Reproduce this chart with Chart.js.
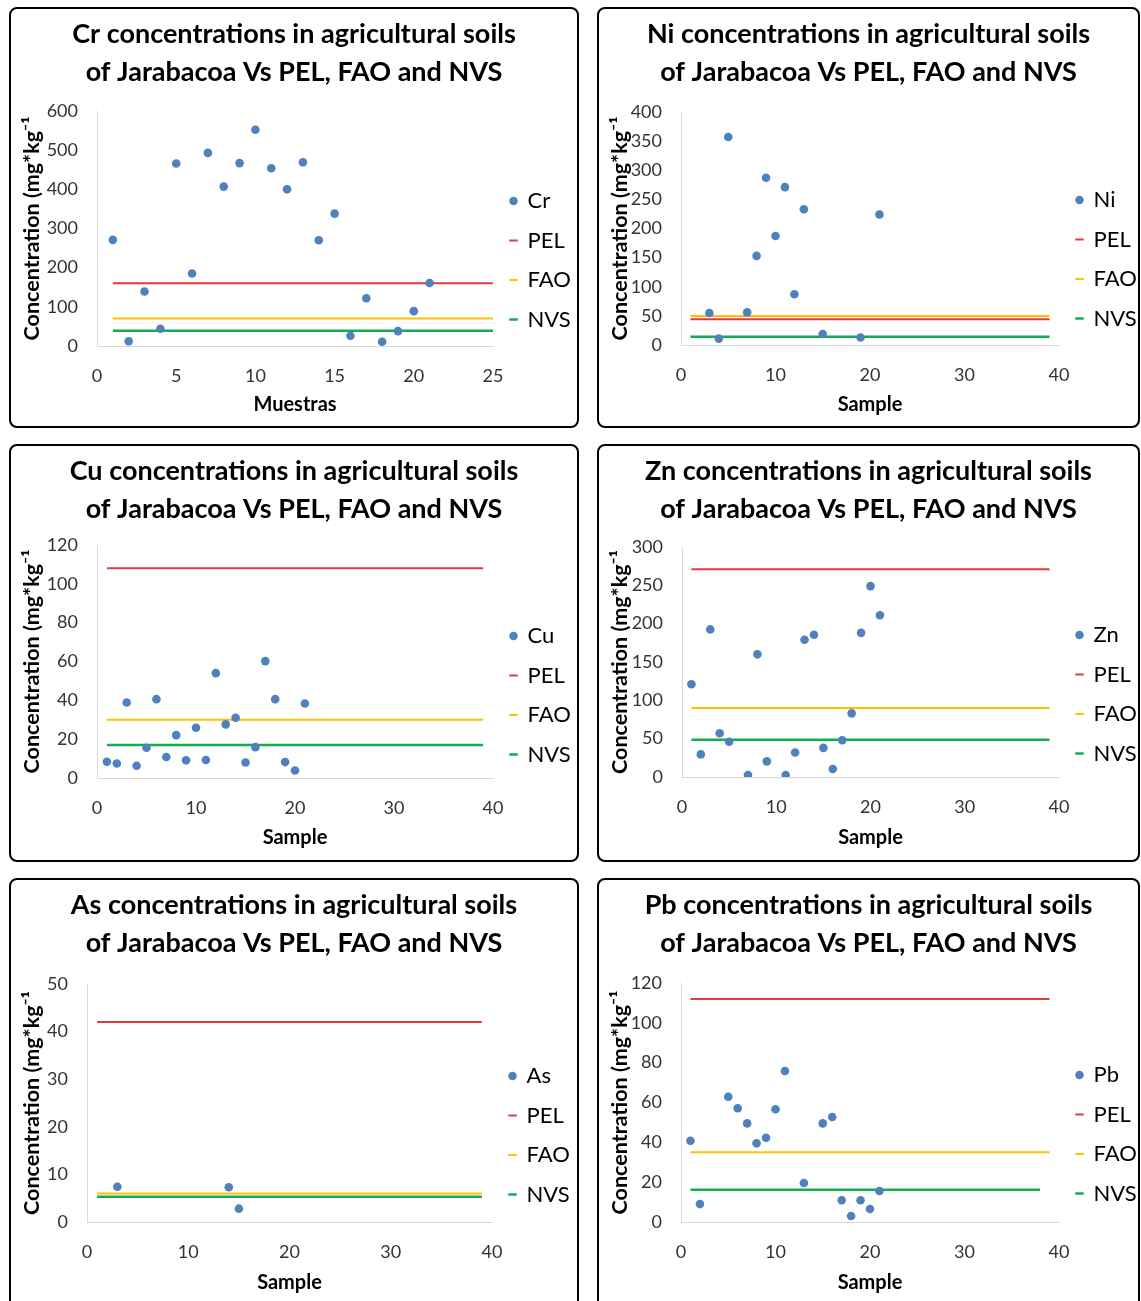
<!DOCTYPE html>
<html>
<head>
<meta charset="utf-8">
<script src="https://cdn.jsdelivr.net/npm/chart.js@4.4.1/dist/chart.umd.min.js"></script>
<style>
  html, body { margin:0; padding:0; background:#fff; }
  body { width:1141px; height:1301px; position:relative; overflow:hidden; }
  .panel { position:absolute; }
  .panel canvas { position:absolute; left:0; top:0; }
  .frame { position:absolute; left:0; top:0; right:0; bottom:0; border:2px solid #000; border-radius:8px; pointer-events:none; }
</style>
</head>
<body>
<div class="panel" id="p-cr"><canvas id="c-cr"></canvas><div class="frame"></div></div>
<div class="panel" id="p-ni"><canvas id="c-ni"></canvas><div class="frame"></div></div>
<div class="panel" id="p-cu"><canvas id="c-cu"></canvas><div class="frame"></div></div>
<div class="panel" id="p-zn"><canvas id="c-zn"></canvas><div class="frame"></div></div>
<div class="panel" id="p-as"><canvas id="c-as"></canvas><div class="frame"></div></div>
<div class="panel" id="p-pb"><canvas id="c-pb"></canvas><div class="frame"></div></div>
<script>
// sample numbers (x)
const samples = [1,2,3,4,5,6,7,8,9,10,11,12,13,14,15,16,17,18,19,20,21];

// measured concentrations, null = not plotted
const crValues = [271,12,139,44,466,185,493,407,467,552,454,400,469,270,338,26,122,11,38,89,161];
const niValues = [null,null,55,11,357,null,56,153,287,187,271,87,233,null,19,null,null,null,13,null,224];
const cuValues = [8.4,7.5,38.9,6.3,15.6,40.6,10.8,22.1,9.1,25.9,9.3,54.0,27.6,31.0,8.0,15.9,60.2,40.6,8.2,3.9,38.4];
const znValues = [121,29.5,192.5,57,46,null,2.6,160,20.4,null,2.6,32,179,185.5,38,10.4,48,83,188,249,211];
const asValues = [null,null,7.4,null,null,null,null,null,null,null,null,null,null,7.3,2.8,null,null,null,null,null,null];
const pbValues = [40.8,9.0,null,null,62.9,57.1,49.5,39.5,42.3,56.6,75.8,null,19.6,null,49.5,52.7,10.9,3.0,10.9,6.5,15.6];

// reference levels: PEL, FAO, NVS
const limitNames = ['PEL','FAO','NVS'];
const crLimits = [160, 70, 39];
const niLimits = [44, 50, 14];
const cuLimits = [108, 30, 17];
const znLimits = [271, 90, 48.5];
const asLimits = [42, 6, 5.3];
const pbLimits = [112, 35, 16.2];

// x range of each reference line
const lineStart = 1;
const crLineEnd = [25, 25, 25];
const niLineEnd = [39, 39, 39];
const cuLineEnd = [39, 39, 39];
const znLineEnd = [39, 39, 39];
const asLineEnd = [39, 39, 39];
const pbLineEnd = [39, 39, 38];

// axis ranges [min, max, step]
const crYTicks = [0, 600, 100], crXTicks = [0, 25, 5];
const niYTicks = [0, 400, 50],  niXTicks = [0, 40, 10];
const cuYTicks = [0, 120, 20],  cuXTicks = [0, 40, 10];
const znYTicks = [0, 300, 50],  znXTicks = [0, 40, 10];
const asYTicks = [0, 50, 10],   asXTicks = [0, 40, 10];
const pbYTicks = [0, 120, 20],  pbXTicks = [0, 40, 10];

const pointColor = '#4f81bd';
const limitColors = ['#e23b3b', '#ffc000', '#12ad4f'];
const limitWidths = [2, 2, 2.5];

Chart.defaults.font.family = "Lato, 'Open Sans', sans-serif";
Chart.defaults.color = '#000';

function drawPanel(id, box, plot, metal, values, limits, lineEnd, yt, xt, xTitle) {
  const wrap = document.getElementById('p-' + id);
  wrap.style.left = box[0] + 'px'; wrap.style.top = box[1] + 'px';
  wrap.style.width = box[2] + 'px'; wrap.style.height = box[3] + 'px';
  const cv = document.getElementById('c-' + id);
  cv.width = box[2]; cv.height = box[3];
  const W = box[2], H = box[3];

  const pts = [];
  samples.forEach((s, i) => { if (values[i] != null) pts.push({x: s, y: values[i]}); });

  const datasets = [{
    label: metal, data: pts, backgroundColor: pointColor, borderColor: pointColor,
    borderWidth: 0, pointRadius: 4.3, pointHoverRadius: 4.3, pointStyle: 'circle'
  }];
  limitNames.forEach((name, k) => {
    datasets.push({
      label: name,
      data: [{x: lineStart, y: limits[k]}, {x: lineEnd[k], y: limits[k]}],
      showLine: true, borderColor: limitColors[k], backgroundColor: limitColors[k],
      borderWidth: limitWidths[k], pointRadius: 0, pointStyle: 'line'
    });
  });

  new Chart(cv, {
    type: 'scatter',
    data: {datasets: datasets},
    options: {
      responsive: false, animation: false, events: [],
      layout: {padding: 0},
      plugins: {
        tooltip: {enabled: false},
        title: {
          display: true,
          text: [metal + ' concentrations in agricultural soils', 'of Jarabacoa Vs PEL, FAO and NVS'],
          font: {size: 27, weight: 'bold', lineHeight: '38px'},
          color: '#000',
          padding: {top: 8, bottom: plot[2] - 84}
        },
        legend: {
          position: 'right', align: 'start', maxWidth: W - plot[1],
          title: {display: true, text: ' ', font: {size: 1, lineHeight: 1}, padding: {top: 0, bottom: plot[4] - 29.5}},
          labels: {usePointStyle: true, boxWidth: 6, boxHeight: 6, padding: 17.5, font: {size: 22}, color: '#000'}
        }
      },
      scales: {
        x: {
          type: 'linear', min: xt[0], max: xt[1],
          afterFit: s => { s.height = H - plot[3]; },
          ticks: {stepSize: xt[2], font: {size: 18}, color: '#333', padding: 19},
          grid: {display: false, drawTicks: false},
          border: {display: true, color: '#d9d9d9', width: 1},
          title: {display: true, text: xTitle, font: {size: 20, weight: 'bold', lineHeight: 1.2}, color: '#000',
                  padding: {top: 0, bottom: H - plot[5] - 12}}
        },
        y: {
          min: yt[0], max: yt[1],
          afterFit: s => { s.width = plot[0]; },
          ticks: {stepSize: yt[2], font: {size: 18}, color: '#333', padding: 19},
          grid: {display: false, drawTicks: false},
          border: {display: true, color: '#d9d9d9', width: 1},
          title: {display: true, text: 'Concentration (mg*kg\u207B\u00B9', font: {size: 21.5, weight: 'bold', lineHeight: 1.2}, color: '#000',
                  padding: {top: 10.5, bottom: 0}}
        }
      }
    }
  });
}

// frame box [left, top, w, h]; plot [left, right, top, bottom, legendFirstY, xTitleY]
drawPanel('cr', [9, 7, 570, 421],   [88, 484, 104, 339, 194, 398], 'Cr', crValues, crLimits, crLineEnd, crYTicks, crXTicks, 'Muestras');
drawPanel('ni', [597, 7, 543, 421], [84, 462, 105, 338, 193, 398], 'Ni', niValues, niLimits, niLineEnd, niYTicks, niXTicks, 'Sample');
drawPanel('cu', [9, 444, 570, 418],   [88, 484, 101, 334, 192, 394], 'Cu', cuValues, cuLimits, cuLineEnd, cuYTicks, cuXTicks, 'Sample');
drawPanel('zn', [597, 444, 543, 418], [85, 462, 103, 333, 191, 394], 'Zn', znValues, znLimits, znLineEnd, znYTicks, znXTicks, 'Sample');
drawPanel('as', [9, 878, 570, 440],   [78, 483, 106, 344, 198, 405], 'As', asValues, asLimits, asLineEnd, asYTicks, asXTicks, 'Sample');
drawPanel('pb', [597, 878, 543, 440], [84, 462, 105, 344, 197, 405], 'Pb', pbValues, pbLimits, pbLineEnd, pbYTicks, pbXTicks, 'Sample');
</script>
</body>
</html>
